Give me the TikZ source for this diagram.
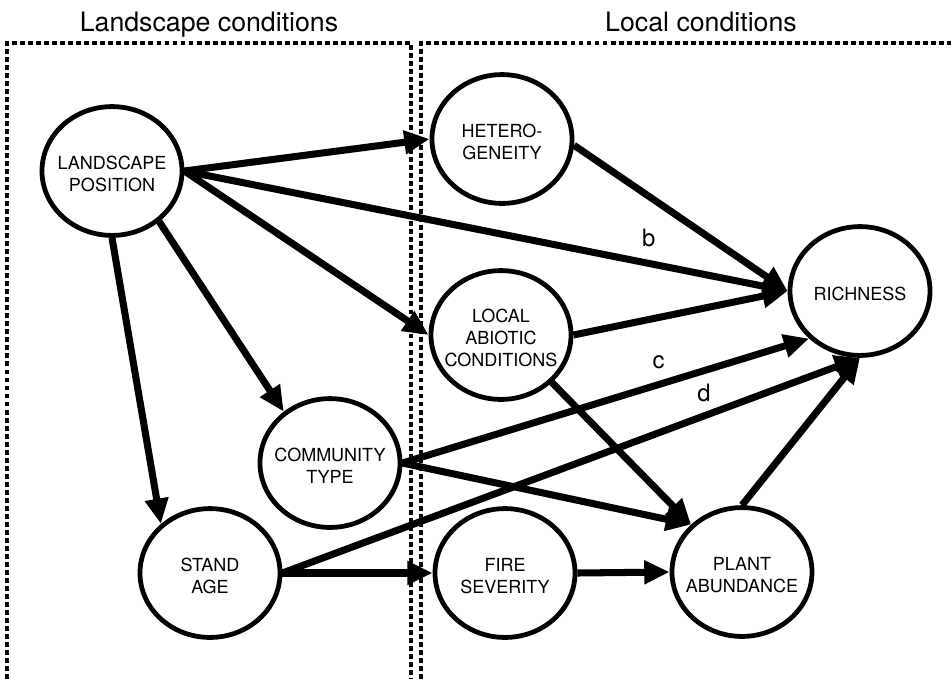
\documentclass[tikz,border=0pt]{standalone}
\usepackage{fontspec}
\setmainfont{TeX Gyre Heros}
\usetikzlibrary{arrows.meta,shapes.geometric}

\begin{document}
\begin{tikzpicture}[x=0.025cm, y=-0.025cm,
  main/.style = {draw, ellipse, line width=3.4pt, minimum width=3.5cm, minimum height=3.22cm, inner sep=0pt},
  txt/.style = {align=center, font=\fontsize{12.8}{15.6}\selectfont, yshift=-2pt},
  title/.style = {anchor=base, font=\fontsize{19}{21}\selectfont},
  lab/.style = {font=\fontsize{17}{19}\selectfont},
  link/.style = {->, line width=5pt},
  box/.style = {dash pattern=on 3.5pt off 2.2pt, line width=2.8pt},
  >={Triangle[length=18pt,width=16pt]}]
\useasboundingbox (0,0) rectangle (951,679);

% the two panels
\draw[box] (7,679) -- (7,43) -- (411,43) -- (411,679);
\draw[box] (421,679) -- (421,43) -- (951,43);
\node[title] (tland) at (209,31) {Landscape conditions};
\node[title] (tloc) at (701,31) {Local conditions};

% factors
\node[main, label={[txt]center:{LANDSCAPE\\POSITION}}] (lp) at (112,171) {};
\node[main, label={[txt]center:{HETERO-\\GENEITY}}] (het) at (502,139) {};
\node[main, label={[txt]center:{LOCAL\\ABIOTIC\\CONDITIONS}}] (loc) at (501,335) {};
\node[main, label={[txt]center:{RICHNESS}}] (rich) at (860,291) {};
\node[main, label={[txt]center:{COMMUNITY\\TYPE}}] (comm) at (330,463) {};
\node[main, label={[txt]center:{STAND\\AGE}}] (stand) at (210,573) {};
\node[main, label={[txt]center:{FIRE\\SEVERITY}}] (fire) at (505,573) {};
\node[main, label={[txt]center:{PLANT\\ABUNDANCE}}] (plant) at (742,572) {};

% paths
\draw[link] (lp.east) -- (het.west);
\draw[link] (lp.east) -- node[lab, pos=0.77, above=6pt] {b} (rich.west);
\draw[link] (lp.east) -- (loc.west);
\draw[link] (lp.-47) -- (comm.132);
\draw[link] (lp.south) -- (stand.135);
\draw[link] (het.-5) -- (rich.west);
\draw[link] (loc.east) -- (rich.west);
\draw[link] (loc.-43) -- (plant.137);
\draw[link] (comm.east) -- node[lab, pos=0.63, above=5pt] {c} (rich.-137);
\draw[link] (comm.east) -- (plant.137);
\draw[link] (stand.east) -- node[lab, pos=0.73, above=4pt] {d} (rich.south);
\draw[link] (stand.east) -- (fire.west);
\draw[link] (fire.east) -- (plant.west);
\draw[link] (plant.north) -- (rich.south);
\end{tikzpicture}
\end{document}
